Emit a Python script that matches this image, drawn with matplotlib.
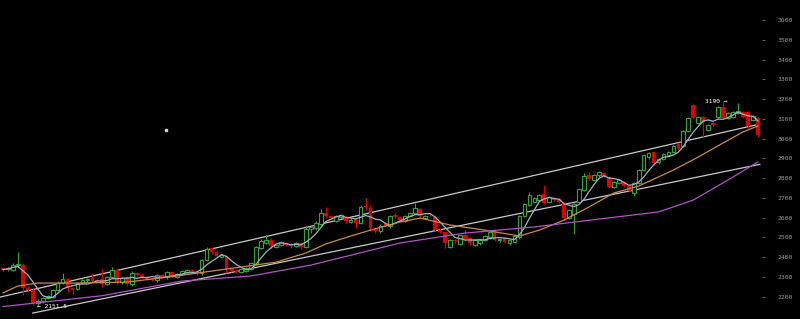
import matplotlib
matplotlib.use("Agg")
import matplotlib.pyplot as plt
import pandas as pd

# candle data (open, high, low, close), one entry per bar
opens = [2345, 2338, 2335, 2358, 2362, 2246, 2236, 2168, 2178, 2192,
         2198, 2233, 2270, 2290, 2245, 2238, 2268, 2282, 2296, 2284,
         2290, 2264, 2300, 2336, 2272, 2298, 2262, 2320, 2312, 2300,
         2290, 2282, 2310, 2298, 2325, 2300, 2315, 2326, 2336, 2325,
         2318, 2385, 2445, 2428, 2400, 2405, 2344, 2335, 2324, 2332,
         2342, 2365, 2445, 2472, 2486, 2452, 2460, 2472, 2465, 2455,
         2470, 2450, 2542, 2548, 2570, 2625, 2610, 2582, 2605, 2605,
         2578, 2595, 2572, 2660, 2650, 2548, 2530, 2570, 2556, 2615,
         2605, 2585, 2610, 2625, 2642, 2600, 2615, 2605, 2540, 2525,
         2452, 2485, 2466, 2510, 2495, 2462, 2470, 2485, 2500, 2525,
         2485, 2495, 2470, 2478, 2500, 2610, 2665, 2680, 2690, 2720,
         2680, 2700, 2695, 2675, 2600, 2620, 2680, 2740, 2815, 2790,
         2815, 2825, 2805, 2755, 2775, 2780, 2760, 2725, 2775, 2840,
         2905, 2930, 2880, 2895, 2915, 2935, 2975, 2965, 3040, 3170,
         3080, 3110, 3045, 3080, 3110, 3160, 3105, 3110, 3130, 3135,
         3135, 3095, 3105]
highs = [2352, 2352, 2368, 2428, 2372, 2252, 2242, 2186, 2200, 2206,
         2240, 2280, 2320, 2296, 2250, 2275, 2290, 2296, 2320, 2290,
         2338, 2305, 2348, 2340, 2300, 2304, 2330, 2326, 2318, 2306,
         2296, 2316, 2316, 2330, 2330, 2320, 2336, 2342, 2342, 2330,
         2390, 2452, 2452, 2434, 2416, 2412, 2350, 2340, 2342, 2350,
         2375, 2455, 2492, 2512, 2496, 2468, 2480, 2478, 2470, 2476,
         2475, 2558, 2560, 2582, 2642, 2652, 2616, 2615, 2618, 2610,
         2596, 2600, 2665, 2702, 2665, 2555, 2566, 2576, 2615, 2622,
         2610, 2615, 2630, 2672, 2648, 2616, 2622, 2612, 2546, 2530,
         2490, 2492, 2514, 2540, 2500, 2490, 2494, 2510, 2530, 2545,
         2498, 2500, 2490, 2510, 2615, 2675, 2730, 2706, 2720, 2765,
         2710, 2706, 2700, 2680, 2645, 2676, 2750, 2825, 2830, 2820,
         2836, 2832, 2810, 2786, 2796, 2786, 2766, 2780, 2846, 2922,
         2932, 2936, 2900, 2925, 2936, 2970, 2982, 3046, 3112, 3178,
         3116, 3116, 3076, 3086, 3166, 3190, 3136, 3140, 3180, 3142,
         3142, 3122, 3112]
lows = [2330, 2332, 2328, 2352, 2210, 2228, 2158, 2151.5, 2170, 2186,
        2192, 2228, 2262, 2222, 2212, 2232, 2262, 2276, 2272, 2272,
        2248, 2258, 2294, 2262, 2266, 2252, 2256, 2306, 2294, 2284,
        2278, 2276, 2294, 2292, 2294, 2295, 2310, 2320, 2318, 2312,
        2312, 2380, 2418, 2400, 2394, 2318, 2324, 2320, 2318, 2326,
        2336, 2360, 2440, 2466, 2440, 2446, 2455, 2456, 2448, 2450,
        2440, 2444, 2520, 2540, 2564, 2600, 2594, 2576, 2598, 2575,
        2572, 2550, 2566, 2640, 2535, 2522, 2524, 2552, 2550, 2600,
        2580, 2580, 2604, 2620, 2600, 2594, 2606, 2535, 2520, 2445,
        2446, 2472, 2460, 2484, 2464, 2456, 2464, 2480, 2494, 2480,
        2478, 2472, 2464, 2472, 2494, 2604, 2660, 2674, 2684, 2668,
        2674, 2684, 2674, 2590, 2594, 2515, 2674, 2734, 2790, 2784,
        2808, 2804, 2748, 2748, 2770, 2754, 2728, 2712, 2770, 2834,
        2898, 2868, 2874, 2890, 2910, 2930, 2944, 2958, 3034, 3098,
        3072, 3010, 3038, 3064, 3104, 3098, 3098, 3104, 3124, 3104,
        3055, 3088, 3010]
closes = [2337, 2346, 2362, 2366, 2245, 2236, 2170, 2180, 2195, 2201,
          2235, 2270, 2292, 2245, 2234, 2268, 2284, 2290, 2280, 2278,
          2262, 2300, 2336, 2276, 2295, 2262, 2320, 2312, 2300, 2290,
          2284, 2310, 2300, 2325, 2300, 2315, 2330, 2336, 2325, 2318,
          2385, 2440, 2425, 2405, 2410, 2340, 2330, 2325, 2338, 2346,
          2370, 2450, 2480, 2486, 2455, 2464, 2475, 2462, 2455, 2470,
          2450, 2545, 2552, 2575, 2625, 2606, 2600, 2610, 2612, 2582,
          2590, 2575, 2652, 2655, 2548, 2530, 2560, 2560, 2610, 2605,
          2586, 2610, 2625, 2650, 2606, 2610, 2612, 2540, 2525, 2470,
          2485, 2480, 2510, 2490, 2470, 2485, 2488, 2505, 2525, 2485,
          2492, 2478, 2485, 2505, 2610, 2670, 2715, 2700, 2715, 2675,
          2705, 2690, 2680, 2600, 2640, 2670, 2745, 2810, 2795, 2815,
          2830, 2810, 2755, 2780, 2790, 2760, 2735, 2775, 2840, 2915,
          2925, 2875, 2895, 2920, 2930, 2965, 2950, 3040, 3105, 3105,
          3110, 3085, 3070, 3070, 3160, 3105, 3130, 3135, 3140, 3110,
          3065, 3115, 3020]

# slower moving averages (bar index, price)
ma_mid_idx = [0, 3, 7, 15, 25, 35, 45, 55, 61, 65, 70, 74, 80, 84, 90, 97,
              104, 108, 113, 118, 123, 128, 135, 140, 145, 149, 152]
ma_mid_val = [2219, 2254, 2269, 2269, 2274, 2305, 2340, 2375, 2421, 2467,
              2507, 2537, 2578, 2598, 2563, 2537, 2507, 2537, 2588, 2654,
              2725, 2760, 2841, 2907, 2978, 3034, 3064]
ma_slow_idx = [0, 20, 36, 50, 62, 80, 93, 107, 120, 132, 139, 146, 152]
ma_slow_val = [2150, 2205, 2279, 2305, 2360, 2472, 2522, 2553, 2593, 2629,
               2689, 2791, 2882]

# trend channel lines (bar index, price) end points
chan_up_x = [-0.6, 152.4]
chan_up_y = [2198, 3074]
chan_lo_x = [6.0, 152.4]
chan_lo_y = [2117, 2870]

yticks = list(range(2200, 3700, 100))

fig = plt.figure(figsize=(8, 3.19), dpi=100, facecolor="black")
ax = fig.add_axes([0, 0, 0.956, 1])
ax.set_facecolor("black")

n = len(closes)
xs = list(range(n))
up_col = "#34a334"
dn_col = "#e00000"
for i in xs:
    o, h, l, c = opens[i], highs[i], lows[i], closes[i]
    col = up_col if c >= o else dn_col
    ax.vlines(i, l, h, color=col, linewidth=0.8, zorder=2)
    if c >= o:
        ax.bar(i, max(c - o, 2), bottom=o, width=0.75, facecolor="black",
               edgecolor=col, linewidth=0.8, zorder=3)
    else:
        ax.bar(i, o - c, bottom=c, width=0.75, color=col, linewidth=0, zorder=3)

# channel lines
ax.plot(chan_up_x, chan_up_y, color="#c8c8c8", linewidth=0.9, zorder=1)
ax.plot(chan_lo_x, chan_lo_y, color="#c8c8c8", linewidth=0.9, zorder=1)

# moving averages
ma_fast = pd.Series(closes).rolling(5, min_periods=1).mean()
ax.plot(xs, ma_fast, color="#9fb4c8", linewidth=0.9, zorder=4)
ax.plot(ma_mid_idx, ma_mid_val, color="#c98c42", linewidth=0.9, zorder=4)
ax.plot(ma_slow_idx, ma_slow_val, color="#b054c4", linewidth=0.9, zorder=4)

# stray marker in the empty area
ax.plot([32.8], [3044], marker="s", markersize=2, color="#d0d0d0", linestyle="none")

# high / low labels
ax.text(141.3, 3190, "3190 \u2192", color="white", fontsize=4.5,
        family="DejaVu Sans Mono", va="center", ha="left")
ax.text(6.8, 2151.5, "\u2190 2151.5", color="white", fontsize=4.5,
        family="DejaVu Sans Mono", va="center", ha="left")

ax.set_xlim(-0.6, 153.4)
ax.set_ylim(2087, 3702)
ax.set_xticks([])
ax.yaxis.tick_right()
ax.set_yticks(yticks)
ax.set_yticklabels([str(t) for t in yticks], family="DejaVu Sans Mono")
ax.tick_params(axis="y", direction="in", length=2.5, width=0.6, color="#777777",
               labelcolor="#9a9a9a", labelsize=4.6, pad=9)
for s in ax.spines.values():
    s.set_visible(False)

fig.savefig("out.png", dpi=100, facecolor="black")
